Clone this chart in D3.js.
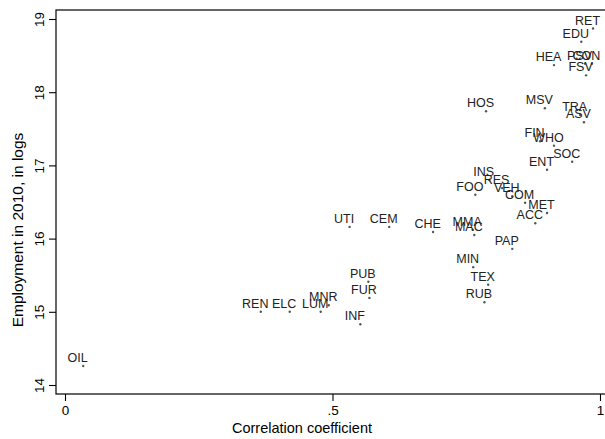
<!DOCTYPE html>
<html><head><meta charset="utf-8">
<script src="https://cdn.jsdelivr.net/npm/d3@7"></script>
<style>body{margin:0;background:#fff}svg{display:block}text{font-family:"Liberation Sans",Arial,sans-serif}</style>
</head><body><svg id="c" width="605" height="439"></svg>
<script>
const codes = ["OIL","REN","ELC","LUM","MNR","INF","PUB","FUR","UTI","CEM","CHE","MMA","MAC","MIN","TEX","RUB","PAP","FOO","INS","RES","VEH","COM","MET","ACC","ENT","SOC","WHO","FIN","HOS","MSV","TRA","ASV","HEA","FSV","PSV","CON","EDU","RET"];
const corr = [0.034,0.366,0.420,0.478,0.493,0.552,0.567,0.569,0.532,0.606,0.688,0.762,0.765,0.763,0.791,0.784,0.836,0.767,0.793,0.817,0.836,0.860,0.901,0.879,0.901,0.948,0.914,0.888,0.787,0.897,0.963,0.970,0.914,0.974,0.972,0.985,0.965,0.987];
const emp = [14.26,15.00,15.00,15.00,15.09,14.83,15.41,15.19,16.16,16.16,16.09,16.12,16.05,15.61,15.37,15.13,15.86,16.60,16.80,16.69,16.58,16.49,16.35,16.21,16.94,17.05,17.27,17.33,17.74,17.78,17.69,17.59,18.37,18.23,18.39,18.39,18.69,18.87];
const xTicks = [0, 0.5, 1];
const xTickLabels = ["0", ".5", "1"];
const yTicks = [14, 15, 16, 17, 18, 19];
const xTitle = "Correlation coefficient";
const yTitle = "Employment in 2010, in logs";

const svg = d3.select("#c");
const x = d3.scaleLinear().domain([0, 1]).range([65, 600]);
const y = d3.scaleLinear().domain([14, 19]).range([385, 19]);
const L = 56, T = 10, B = 394, R = 640;

svg.append("rect").attr("x", L).attr("y", T).attr("width", R - L).attr("height", B - T)
  .attr("fill", "none").attr("stroke", "#000").attr("stroke-width", 1.2);

const xa = svg.append("g").attr("transform", `translate(0,${B})`)
  .call(d3.axisBottom(x).tickValues(xTicks).tickFormat((d, i) => xTickLabels[i]).tickSize(7).tickPadding(4));
xa.select(".domain").remove();
xa.selectAll("line").attr("stroke", "#000").attr("stroke-width", 1.1);
xa.selectAll("text").attr("font-size", 13.5).attr("fill", "#000").attr("font-family", '"Liberation Sans",Arial,sans-serif');

const ya = svg.append("g").attr("transform", `translate(${L},0)`)
  .call(d3.axisLeft(y).tickValues(yTicks).tickFormat(d3.format("d")).tickSize(7).tickPadding(3));
ya.select(".domain").remove();
ya.selectAll("line").attr("stroke", "#000").attr("stroke-width", 1.1);
ya.selectAll("text").attr("font-size", 13.5).attr("fill", "#000").attr("font-family", '"Liberation Sans",Arial,sans-serif')
  .attr("text-anchor", "middle").attr("x", null).attr("dy", null)
  .attr("transform", "translate(-12,0) rotate(-90)");

svg.append("text").attr("x", 302).attr("y", 433).attr("text-anchor", "middle")
  .attr("font-size", 14.5).attr("fill", "#000").text(xTitle);
svg.append("text").attr("transform", `translate(23,230) rotate(-90)`).attr("text-anchor", "middle")
  .attr("font-size", 15.5).attr("fill", "#000").text(yTitle);

const pts = codes.map((c, i) => ({c, x: corr[i], y: emp[i]}));
const g = svg.append("g");
g.selectAll("circle").data(pts).join("circle")
  .attr("cx", d => x(d.x)).attr("cy", d => y(d.y)).attr("r", 1.2).attr("fill", "#555");
g.selectAll("text.lab").data(pts).join("text").attr("class", "lab")
  .attr("x", d => x(d.x) - 5.5).attr("y", d => y(d.y) - 4).attr("text-anchor", "middle")
  .attr("font-size", 12.5).attr("fill", "#222").text(d => d.c);
</script></body></html>
